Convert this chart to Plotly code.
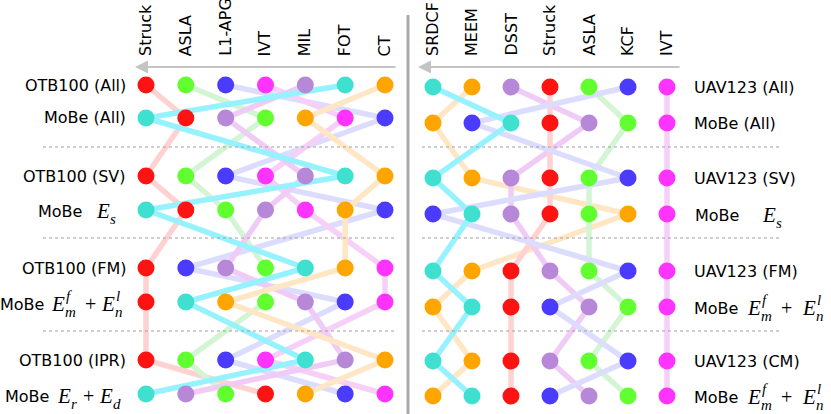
import plotly.graph_objects as go

W, H = 831, 414

# ── data: tracker order (best → worst) in each row ────────────────────────────
LEFT_HEADER = ['Struck', 'ASLA', 'L1-APG', 'IVT', 'MIL', 'FOT', 'CT']
LEFT_ROWS = [
    ['Struck', 'ASLA', 'L1-APG', 'IVT', 'MIL', 'FOT', 'CT'],      # OTB100 (All)
    ['FOT', 'Struck', 'MIL', 'ASLA', 'CT', 'IVT', 'L1-APG'],      # MoBe (All)
    ['Struck', 'ASLA', 'L1-APG', 'IVT', 'MIL', 'FOT', 'CT'],      # OTB100 (SV)
    ['FOT', 'Struck', 'ASLA', 'MIL', 'IVT', 'CT', 'L1-APG'],      # MoBe Es
    ['Struck', 'L1-APG', 'MIL', 'ASLA', 'FOT', 'CT', 'IVT'],      # OTB100 (FM)
    ['Struck', 'FOT', 'CT', 'ASLA', 'MIL', 'L1-APG', 'IVT'],      # MoBe Efm+Enl
    ['Struck', 'ASLA', 'L1-APG', 'IVT', 'FOT', 'MIL', 'CT'],      # OTB100 (IPR)
    ['FOT', 'MIL', 'ASLA', 'Struck', 'CT', 'L1-APG', 'IVT'],      # MoBe Er+Ed
]
LEFT_LABELS = ['OTB100 (All)', 'MoBe (All)', 'OTB100 (SV)', None,
               'OTB100 (FM)', None, 'OTB100 (IPR)', None]

RIGHT_HEADER = ['SRDCF', 'MEEM', 'DSST', 'Struck', 'ASLA', 'KCF', 'IVT']
RIGHT_ROWS = [
    ['SRDCF', 'MEEM', 'DSST', 'Struck', 'ASLA', 'KCF', 'IVT'],    # UAV123 (All)
    ['MEEM', 'KCF', 'SRDCF', 'Struck', 'DSST', 'ASLA', 'IVT'],    # MoBe (All)
    ['SRDCF', 'MEEM', 'DSST', 'Struck', 'ASLA', 'KCF', 'IVT'],    # UAV123 (SV)
    ['KCF', 'SRDCF', 'DSST', 'Struck', 'ASLA', 'MEEM', 'IVT'],    # MoBe Es
    ['SRDCF', 'MEEM', 'Struck', 'DSST', 'ASLA', 'KCF', 'IVT'],    # UAV123 (FM)
    ['MEEM', 'SRDCF', 'Struck', 'KCF', 'DSST', 'ASLA', 'IVT'],    # MoBe Efm+Enl
    ['SRDCF', 'MEEM', 'Struck', 'DSST', 'ASLA', 'KCF', 'IVT'],    # UAV123 (CM)
    ['MEEM', 'SRDCF', 'Struck', 'KCF', 'DSST', 'ASLA', 'IVT'],    # MoBe Efm+Enl
]
RIGHT_LABELS = ['UAV123 (All)', 'MoBe (All)', 'UAV123 (SV)', None,
                'UAV123 (FM)', None, 'UAV123 (CM)', None]

# ── style ─────────────────────────────────────────────────────────────────────
DOT = {'red': '#FF1212', 'green': '#62FF30', 'blue': '#4A3BFF', 'magenta': '#FF33FF',
       'purple': '#B888D8', 'turq': '#40E0D0', 'orange': '#FFA500'}
LINE = {'red': '#FFD2D2', 'green': '#D3F5D3', 'blue': '#DCDCFF', 'magenta': '#F6D0F6',
        'purple': '#EFCBF6', 'turq': '#96F2FF', 'orange': '#FFE6C4'}
LEFT_COLOR = {'Struck': 'red', 'ASLA': 'green', 'L1-APG': 'blue', 'IVT': 'magenta',
              'MIL': 'purple', 'FOT': 'turq', 'CT': 'orange'}
RIGHT_COLOR = {'SRDCF': 'turq', 'MEEM': 'orange', 'DSST': 'purple', 'Struck': 'red',
               'ASLA': 'green', 'KCF': 'blue', 'IVT': 'magenta'}

SANS = 'DejaVu Sans, sans-serif'
SERIF = 'Liberation Serif, serif'

# row centres (px from top) – the two panels were drawn a little differently
ROW_Y_L = [85, 118, 176, 210, 268, 302, 360, 394]
ROW_Y_R = [87, 123, 178, 214, 271, 307, 361, 396]


def px(x):
    return x / W


def py(y):
    return 1 - y / H


fig = go.Figure()


def add_panel(rows, header, cmap, row_y, xa):
    order = [t for t in header if cmap[t] != 'turq'] + [t for t in header if cmap[t] == 'turq']
    for t in order:
        xs = [r.index(t) for r in rows]
        fig.add_trace(go.Scatter(x=xs, y=row_y, mode='lines', xaxis=xa, yaxis='y',
                                 line=dict(color=LINE[cmap[t]], width=5.5),
                                 hoverinfo='skip', showlegend=False))
    for t in header:
        xs = [r.index(t) for r in rows]
        fig.add_trace(go.Scatter(x=xs, y=row_y, mode='markers', xaxis=xa, yaxis='y',
                                 marker=dict(color=DOT[cmap[t]], size=17, line=dict(width=0)),
                                 name=t, showlegend=False))


add_panel(LEFT_ROWS, LEFT_HEADER, LEFT_COLOR, ROW_Y_L, 'x')
add_panel(RIGHT_ROWS, RIGHT_HEADER, RIGHT_COLOR, ROW_Y_R, 'x2')


def text(x, y, s, size=16, family=SANS, anchor='left'):
    fig.add_annotation(xref='paper', yref='paper', x=px(x), y=py(y), text=s,
                       showarrow=False, xanchor=anchor, yanchor='middle', borderpad=0,
                       font=dict(size=size, family=family, color='black'))


def math_E(x, y, sup=None, sub=None):
    text(x, y, '<i>E</i>', size=21, family=SERIF)
    if sup:
        text(x + 15, y - 8, '<i>%s</i>' % sup, size=15, family=SERIF)
    if sub:
        text(x + 14, y + 8, '<i>%s</i>' % sub, size=15, family=SERIF)


# headers (rotated)
LEFT_COL_X = [146 + i * 39.83 for i in range(7)]
RIGHT_COL_X = [433 + i * 39 for i in range(7)]
for name, x in zip(LEFT_HEADER, LEFT_COL_X):
    fig.add_annotation(xref='paper', yref='paper', x=px(x), y=py(58), text=name,
                       textangle=-90, showarrow=False, xanchor='center', yanchor='bottom',
                       font=dict(size=16, family=SANS, color='black'))
for name, x in zip(RIGHT_HEADER, RIGHT_COL_X):
    fig.add_annotation(xref='paper', yref='paper', x=px(x), y=py(58), text=name,
                       textangle=-90, showarrow=False, xanchor='center', yanchor='bottom',
                       font=dict(size=16, family=SANS, color='black'))

# ranking arrows
for x0, x1 in [(135, 397), (418, 681)]:
    fig.add_annotation(xref='paper', yref='paper', x=px(x0), y=py(67), ax=x1 - x0, ay=0,
                       text='', showarrow=True, arrowhead=2, arrowsize=1.3,
                       arrowwidth=2, arrowcolor='#C4C4C4')

# plain row labels
for lab, y in zip(LEFT_LABELS, ROW_Y_L):
    if lab:
        text(127, y, lab, anchor='right')
for lab, y in zip(RIGHT_LABELS, ROW_Y_R):
    if lab:
        text(693, y, lab)

# MoBe labels with math
y = ROW_Y_L[3] + 1
text(37, y, 'MoBe'); math_E(95, y, sub='s')
y = ROW_Y_L[5] + 2
text(-1, y, 'MoBe'); math_E(50, y, 'f', 'm'); text(84, y, '+', 20, SERIF); math_E(100, y, 'l', 'n')
y = ROW_Y_L[7] + 2
text(4, y, 'MoBe'); math_E(56, y, sub='r'); text(82, y, '+', 20, SERIF); math_E(98, y, sub='d')

y = ROW_Y_R[3] + 1
text(694, y, 'MoBe'); math_E(761, y, sub='s')
for r in (5, 7):
    y = ROW_Y_R[r] + 1
    text(693, y, 'MoBe'); math_E(746, y, 'f', 'm'); text(780, y, '+', 20, SERIF); math_E(801, y, 'l', 'n')

# separators
for ys in (147, 238, 331):
    fig.add_shape(type='line', xref='paper', yref='paper', x0=px(43), x1=px(396),
                  y0=py(ys), y1=py(ys), line=dict(color='#A0A0A0', width=1, dash='dot'))
    fig.add_shape(type='line', xref='paper', yref='paper', x0=px(422), x1=px(780),
                  y0=py(ys), y1=py(ys), line=dict(color='#A0A0A0', width=1, dash='dot'))
fig.add_shape(type='line', xref='paper', yref='paper', x0=px(408), x1=px(408),
              y0=py(15), y1=py(414), line=dict(color='#ABABAB', width=3))

ax_common = dict(visible=False, fixedrange=True)
fig.update_layout(
    width=W, height=H,
    margin=dict(l=0, r=0, t=0, b=0),
    paper_bgcolor='white', plot_bgcolor='rgba(0,0,0,0)',
    xaxis=dict(range=[-0.5, 6.5], domain=[px(146 - 19.915), px(385 + 19.915)], **ax_common),
    xaxis2=dict(range=[-0.5, 6.5], domain=[px(433 - 19.5), px(667 + 19.5)], **ax_common),
    yaxis=dict(range=[H, 0], domain=[0, 1], **ax_common),
    showlegend=False,
)

# page body has an 8px default margin; drop it so the figure fills the window
fig.write_html('out.html', config={'displayModeBar': False},
               post_script="document.body.style.margin='0px';")
